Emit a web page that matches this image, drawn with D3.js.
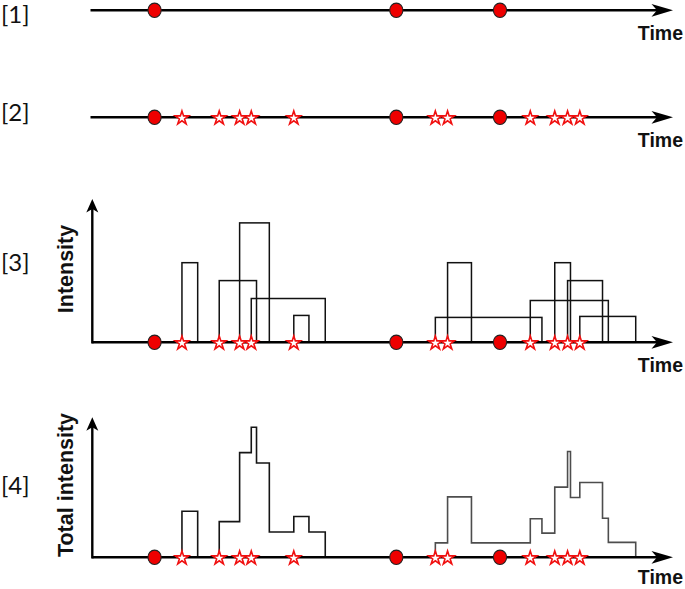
<!DOCTYPE html>
<html>
<head>
<meta charset="utf-8">
<script src="https://cdn.jsdelivr.net/npm/d3@7"></script>
<style>
  html, body { margin: 0; padding: 0; background: #fff; }
  svg { display: block; }
</style>
</head>
<body>
<svg id="chart" width="685" height="589"></svg>
<script>
// ---------------- data ----------------
const circleTimes = [11.0, 52.5, 70.3];
const starTimes = [15.7, 22.1, 25.6, 27.6, 34.9, 59.2, 61.3, 75.5, 79.7, 81.9, 84.0];
const pulseStart = [15.7, 22.1, 25.6, 27.6, 34.9, 59.2, 61.3, 75.5, 79.7, 81.9, 84.0];
const pulseEnd = [18.4, 28.5, 30.7, 40.3, 37.5, 77.5, 65.4, 88.9, 82.4, 87.9, 93.6];
const pulseIntensity = [4.0, 3.1, 6.0, 2.2, 1.35, 1.25, 4.0, 2.1, 4.0, 3.1, 1.3];
const panelLabels = ["[1]", "[2]", "[3]", "[4]"];
const yAxisTitles = ["", "", "Intensity", "Total intensity"];
const xAxisTitle = "Time";

// ---------------- layout ----------------
const svg = d3.select("#chart");
const x = d3.scaleLinear().domain([0, 100]).range([90.5, 673]);
const rowY = [10.3, 117.3, 342.3, 557.3];
const yAxisX = 92.3;
const y3 = d3.scaleLinear().domain([0, 7.2]).range([342.3, 199]);
const y4 = d3.scaleLinear().domain([0, 12.17]).range([557.3, 417.3]);

const pulses = pulseStart.map((s, i) => ({ s, e: pulseEnd[i], h: pulseIntensity[i] }));

function hArrow(g, x0, x1, y) {
  g.append("line").attr("x1", x0).attr("x2", x1 - 10).attr("y1", y).attr("y2", y)
    .attr("stroke", "#000").attr("stroke-width", 2.4);
  g.append("path")
    .attr("d", `M${x1},${y} L${x1 - 21.5},${y - 6.4} L${x1 - 16},${y} L${x1 - 21.5},${y + 6.4} Z`)
    .attr("fill", "#000");
}
function vArrow(g, xx, y0, y1) {
  g.append("line").attr("x1", xx).attr("x2", xx).attr("y1", y0).attr("y2", y1 + 6)
    .attr("stroke", "#000").attr("stroke-width", 2.4);
  g.append("path")
    .attr("d", `M${xx},${y1} L${xx - 6},${y1 + 13.5} L${xx},${y1 + 10} L${xx + 6},${y1 + 13.5} Z`)
    .attr("fill", "#000");
}

const star = d3.symbol().type(d3.symbolStar).size(58);

function markers(g, yy, withStars) {
  if (withStars) {
    g.selectAll("path.star").data(starTimes).join("path")
      .attr("class", "star")
      .attr("d", star)
      .attr("transform", d => `translate(${x(d)},${yy + 0.8})`)
      .attr("fill", "#fff").attr("stroke", "#f01010").attr("stroke-width", 1.6)
      .attr("stroke-linejoin", "miter");
  }
  g.selectAll("ellipse.dot").data(circleTimes).join("ellipse")
    .attr("class", "dot")
    .attr("cx", d => x(d)).attr("cy", yy)
    .attr("rx", 6.6).attr("ry", 7.2)
    .attr("fill", "#ee0000").attr("stroke", "#222").attr("stroke-width", 1.1);
}

function timeLabel(yy, off) {
  svg.append("text").attr("x", 683).attr("y", yy + (off || 29.5))
    .attr("text-anchor", "end")
    .attr("font-family", "Liberation Sans, Arial, sans-serif")
    .attr("font-weight", "bold").attr("font-size", 19.5)
    .attr("fill", "#111")
    .text(xAxisTitle);
}

// panel labels
const labelCenters = [13.5, 111.5, 261.5, 484.5];
panelLabels.forEach((t, i) => {
  svg.append("text").attr("x", 1).attr("y", labelCenters[i])
    .attr("dominant-baseline", "central")
    .attr("font-family", "Lato, 'Open Sans', sans-serif")
    .attr("font-size", 24).attr("fill", "#111")
    .text(t);
});

// ---------- Panel 1 ----------
{
  const g = svg.append("g");
  hArrow(g, x(0), x(100), rowY[0]);
  markers(g, rowY[0], false);
  timeLabel(rowY[0]);
}

// ---------- Panel 2 ----------
{
  const g = svg.append("g");
  hArrow(g, x(0), x(100), rowY[1]);
  markers(g, rowY[1], true);
  timeLabel(rowY[1]);
}

// ---------- Panel 3 ----------
{
  const g = svg.append("g");
  g.selectAll("rect.pulse").data(pulses).join("rect")
    .attr("class", "pulse")
    .attr("x", d => x(d.s)).attr("width", d => x(d.e) - x(d.s))
    .attr("y", d => y3(d.h)).attr("height", d => y3(0) - y3(d.h))
    .attr("fill", "none").attr("stroke", "#111").attr("stroke-width", 1.5);
  hArrow(g, yAxisX, x(100), y3(0));
  vArrow(g, yAxisX, y3(0) + 1.2, y3.range()[1]);
  markers(g, y3(0), true);
  timeLabel(y3(0));
  svg.append("text")
    .attr("transform", `translate(73,${269}) rotate(-90)`)
    .attr("text-anchor", "middle")
    .attr("font-family", "Liberation Sans, Arial, sans-serif")
    .attr("font-weight", "bold").attr("font-size", 21.5).attr("fill", "#111")
    .text(yAxisTitles[2]);
}

// ---------- Panel 4 ----------
{
  const g = svg.append("g");
  const bps = Array.from(new Set(pulses.flatMap(p => [p.s, p.e]))).sort((a, b) => a - b);
  const total = t => d3.sum(pulses.filter(p => p.s <= t && t < p.e), p => p.h);
  const clusters = [];
  let cur = null;
  bps.forEach(t => {
    const v = total(t);
    if (cur === null) { if (v > 0) { cur = [[t, 0], [t, v]]; } }
    else {
      cur.push([t, v]);
      if (v === 0) { clusters.push(cur); cur = null; }
    }
  });
  if (cur) clusters.push(cur);

  const line = d3.line().x(d => x(d[0])).y(d => y4(d[1])).curve(d3.curveStepAfter);
  g.selectAll("path.total").data(clusters).join("path")
    .attr("class", "total")
    .attr("d", d => line(d))
    .attr("fill", "none")
    .attr("stroke", d => d[0][0] < circleTimes[1] ? "#151515" : "#4d4d4d")
    .attr("stroke-width", 1.6);
  hArrow(g, yAxisX, x(100), y4(0));
  vArrow(g, yAxisX, y4(0) + 1.2, y4.range()[1]);
  markers(g, y4(0), true);
  timeLabel(y4(0), 27);
  svg.append("text")
    .attr("transform", `translate(73,${485}) rotate(-90)`)
    .attr("text-anchor", "middle")
    .attr("font-family", "Liberation Sans, Arial, sans-serif")
    .attr("font-weight", "bold").attr("font-size", 21.5).attr("fill", "#111")
    .text(yAxisTitles[3]);
}
</script>
</body>
</html>
